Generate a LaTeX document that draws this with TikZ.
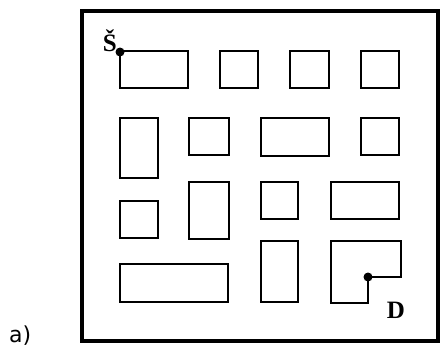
\documentclass[tikz,border=0pt]{standalone}
\usepackage{fontspec}
\newfontfamily\capfamily{DejaVu Sans}
\newfontfamily\lblfamily{Liberation Serif}
\usepackage{tikz}
\usetikzlibrary{positioning}
\begin{document}
\begin{tikzpicture}[
  x=1pt, y=-1pt,
  frame/.style={draw, line width=4pt},
  block/.style={draw, line width=2.6pt, line join=miter},
  term/.style={circle, fill=black, inner sep=0pt, minimum size=9pt},
  lbl/.style={font=\lblfamily\fontsize{25}{28}\selectfont\bfseries, inner sep=0pt}
]
  \useasboundingbox (0,0) rectangle (441,351);
  \draw[frame] (82,11) rectangle (438,341);

  % row 1
  \draw[block] (120,51) rectangle (188,88);
  \draw[block] (220,51) rectangle (258,88);
  \draw[block] (290,51) rectangle (329,88);
  \draw[block] (361,51) rectangle (399,88);
  % row 2
  \draw[block] (120,118) rectangle (158,178);
  \draw[block] (189,118) rectangle (229,155);
  \draw[block] (261,118) rectangle (329,156);
  \draw[block] (361,118) rectangle (399,155);
  % row 3
  \draw[block] (120,201) rectangle (158,238);
  \draw[block] (189,182) rectangle (229,239);
  \draw[block] (261,182) rectangle (298,219);
  \draw[block] (331,182) rectangle (399,219);
  % row 4
  \draw[block] (120,264) rectangle (228,302);
  \draw[block] (261,241) rectangle (298,302);
  \draw[block] (331,241) -- (401,241) -- (401,277) -- (368,277)
    -- (368,303) -- (331,303) -- cycle;

  % terminals
  \node[term] (s) at (120,52) {};
  \node[term] (d) at (368,277) {};
  \node[lbl, anchor=base east] (slbl) at (117,51) {Š};
  \node[lbl, anchor=base east] (dlbl) at (405,318) {D};

  \node[font=\capfamily\fontsize{22}{26}\selectfont, inner sep=0pt,
    anchor=base west] (cap) at (9,342) {a)};
\end{tikzpicture}
\end{document}
